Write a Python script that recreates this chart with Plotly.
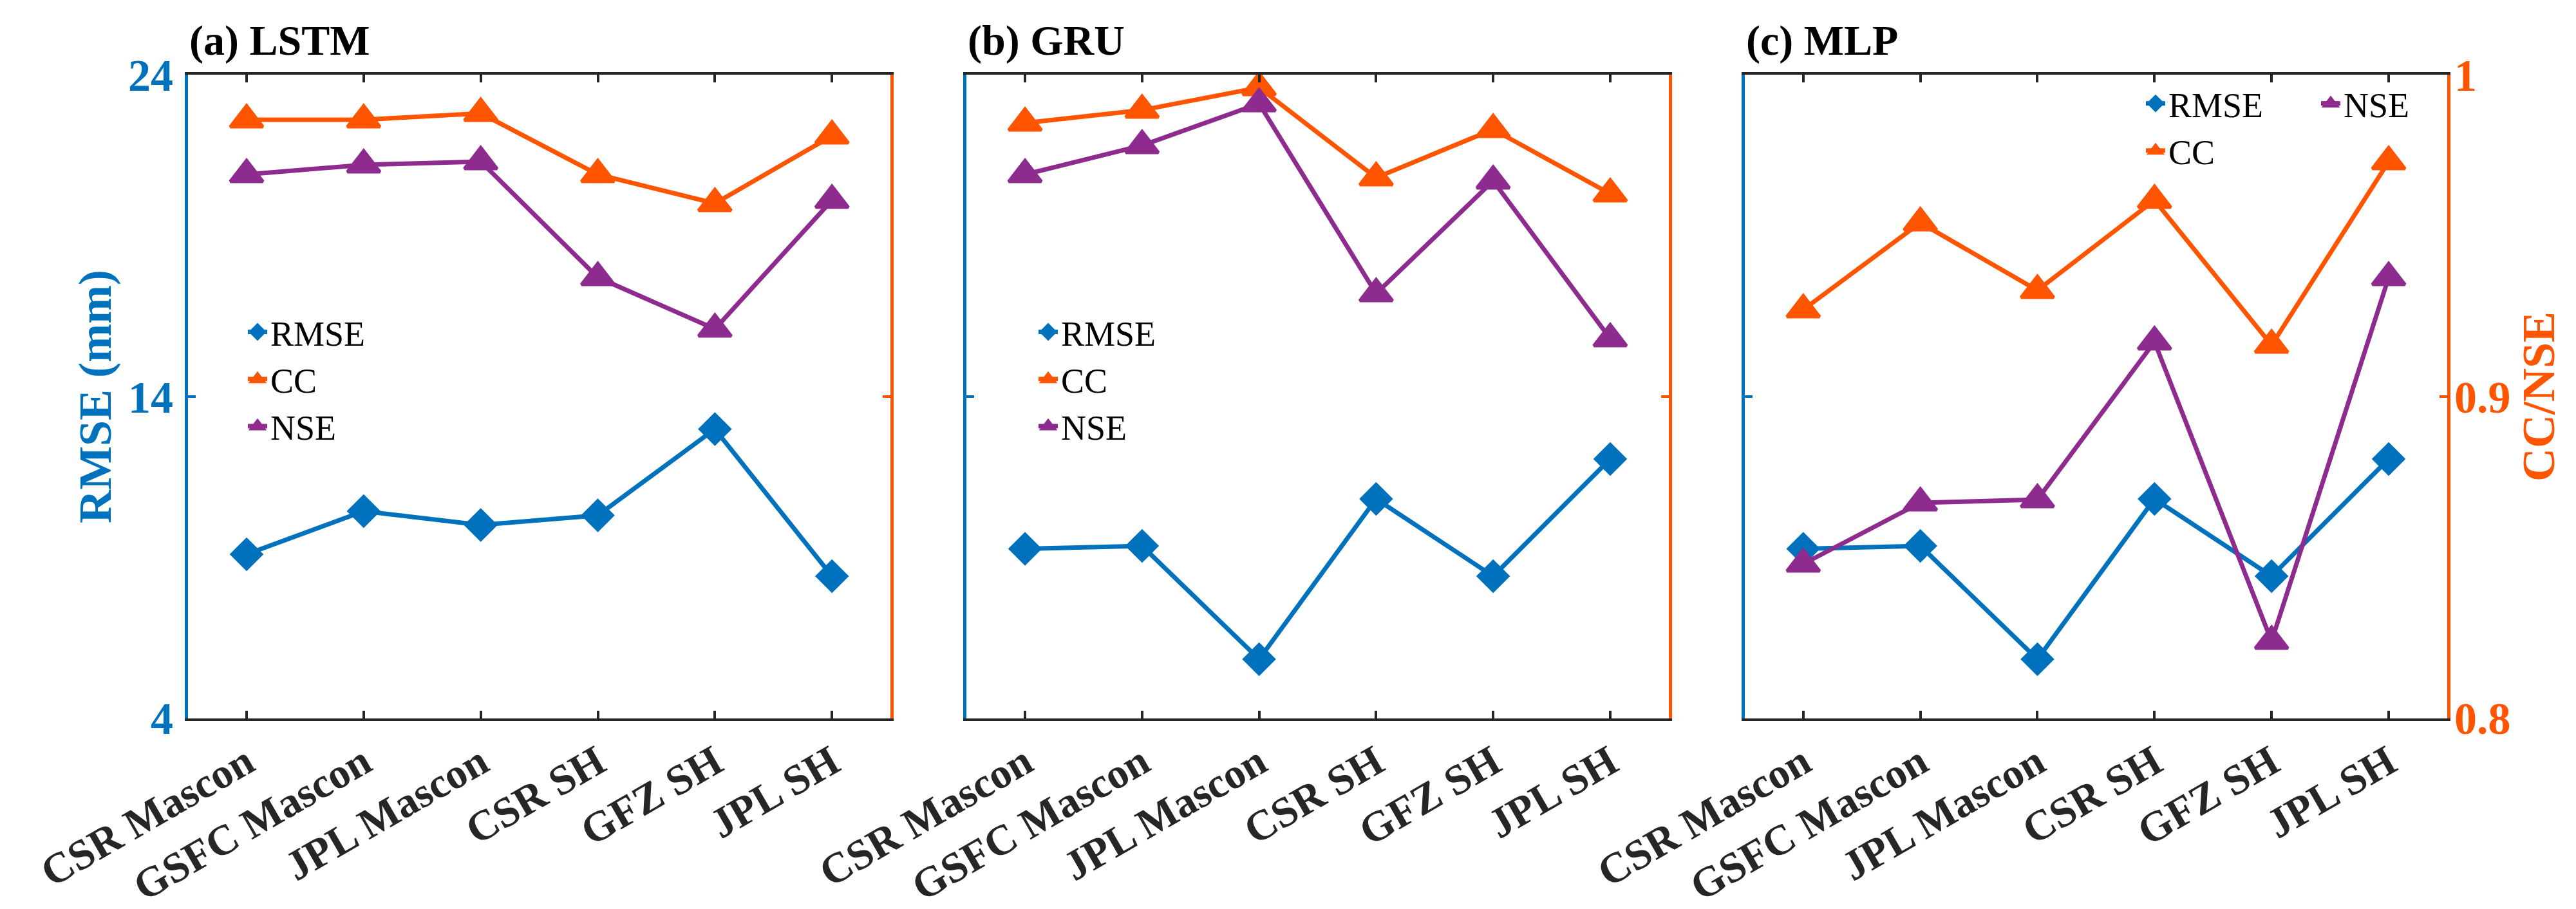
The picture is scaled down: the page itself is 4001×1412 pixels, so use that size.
import plotly.graph_objects as go

# x categories (GRACE solutions)
products = ['CSR Mascon', 'GSFC Mascon', 'JPL Mascon', 'CSR SH', 'GFZ SH', 'JPL SH']

# (a) LSTM
lstm_rmse = [9.10, 10.44, 10.01, 10.31, 12.99, 8.42]
lstm_cc = [0.986, 0.986, 0.988, 0.969, 0.960, 0.981]
lstm_nse = [0.969, 0.972, 0.973, 0.937, 0.921, 0.961]

# (b) GRU
gru_rmse = [9.27, 9.36, 5.84, 10.82, 8.42, 12.06]
gru_cc = [0.985, 0.989, 0.996, 0.968, 0.983, 0.963]
gru_nse = [0.969, 0.978, 0.991, 0.932, 0.967, 0.918]

# (c) MLP
mlp_rmse = [9.27, 9.36, 5.84, 10.82, 8.42, 12.06]
mlp_cc = [0.927, 0.954, 0.933, 0.961, 0.916, 0.973]
mlp_nse = [0.848, 0.867, 0.868, 0.917, 0.824, 0.937]

rmse_ticks = [4, 14, 24]
cc_ticks = [0.8, 0.9, 1]

BLUE = '#0072BD'
ORANGE = '#FF5500'
PURPLE = '#8E2B8E'
DARK = '#262626'
FONT = 'Liberation Serif'

panels = [
    ('(a) LSTM', lstm_rmse, lstm_cc, lstm_nse),
    ('(b) GRU', gru_rmse, gru_cc, gru_nse),
    ('(c) MLP', mlp_rmse, mlp_cc, mlp_nse),
]
x_domains = [[0.0710, 0.3437], [0.3732, 0.6458], [0.6753, 0.9480]]
y_domain = [0.2153, 0.9235]


def series(color, symbol, size):
    # same look for every line: thick line, filled marker with an outline of the same colour
    return dict(line=dict(color=color, width=7),
                marker=dict(symbol=symbol, size=size, color=color, line=dict(color=color, width=5)))


fig = go.Figure()
layout = {}
for i, (title, rmse, cc, nse) in enumerate(panels):
    xa = 'x' if i == 0 else 'x%d' % (i + 1)
    yl = 'y%d' % (2 * i + 1) if i > 0 else 'y'
    yr = 'y%d' % (2 * i + 2)
    leg = 'legend' if i == 0 else 'legend%d' % (i + 1)
    # panel c: RMSE+CC in legend3, NSE next to RMSE in legend4
    leg_nse = 'legend4' if i == 2 else leg

    fig.add_trace(go.Scatter(x=products, y=rmse, xaxis=xa, yaxis=yl, mode='lines+markers', name='RMSE',
                             legend=leg, **series(BLUE, 'diamond', 35)))
    fig.add_trace(go.Scatter(x=products, y=cc, xaxis=xa, yaxis=yr, mode='lines+markers', name='CC',
                             legend=leg, **series(ORANGE, 'triangle-up', 44)))
    fig.add_trace(go.Scatter(x=products, y=nse, xaxis=xa, yaxis=yr, mode='lines+markers', name='NSE',
                             legend=leg_nse, **series(PURPLE, 'triangle-up', 44)))

    xkey = 'xaxis' if i == 0 else 'xaxis%d' % (i + 1)
    ylkey = 'yaxis' if i == 0 else 'yaxis%d' % (2 * i + 1)
    yrkey = 'yaxis%d' % (2 * i + 2)

    layout[xkey] = dict(domain=x_domains[i], anchor=yl, range=[-0.5, 5.5], showline=True, linecolor=DARK,
                        linewidth=4, mirror='ticks', ticks='inside', ticklen=12, tickwidth=4, tickcolor=DARK,
                        tickangle=-30, tickfont=dict(family=FONT, size=66, color=DARK, weight='bold'),
                        showgrid=False, zeroline=False, automargin=False)
    layout[ylkey] = dict(domain=y_domain, anchor=xa, range=[4, 24], tickvals=rmse_ticks, showline=True,
                         linecolor=BLUE, linewidth=5, ticks='inside', ticklen=12, tickwidth=4, tickcolor=BLUE,
                         showticklabels=(i == 0), ticklabelstandoff=4,
                         tickfont=dict(family=FONT, size=70, color=BLUE, weight='bold'),
                         showgrid=False, zeroline=False, automargin=False)
    layout[yrkey] = dict(domain=y_domain, anchor=xa, overlaying=yl, side='right', range=[0.8, 1],
                         tickvals=cc_ticks, showline=True, linecolor=ORANGE, linewidth=5, ticks='inside',
                         ticklen=12, tickwidth=4, tickcolor=ORANGE, showticklabels=(i == 2), ticklabelstandoff=-8,
                         tickfont=dict(family=FONT, size=70, color=ORANGE, weight='bold'),
                         showgrid=False, zeroline=False, automargin=False)
    if i == 0:
        layout[ylkey]['title'] = dict(text='RMSE (mm)', standoff=4,
                                      font=dict(family=FONT, size=72, color=BLUE, weight='bold'))
    if i == 2:
        layout[yrkey]['title'] = dict(text='CC/NSE', standoff=20,
                                      font=dict(family=FONT, size=72, color=ORANGE, weight='bold'))

    fig.add_annotation(text='<b>%s</b>' % title, xref='x%s domain' % ('' if i == 0 else str(i + 1)), x=0,
                       yref='paper', y=0.961, xanchor='left', yanchor='middle', showarrow=False,
                       font=dict(family=FONT, size=66, color='black'))

leg_style = dict(font=dict(family=FONT, size=54, color='black'), bgcolor='rgba(0,0,0,0)',
                 xanchor='left', yanchor='top', tracegroupgap=0)
layout['legend'] = dict(x=372 / 4001, y=0.670, **leg_style)
layout['legend2'] = dict(x=1600 / 4001, y=0.670, **leg_style)
layout['legend3'] = dict(x=3320 / 4001, y=0.9214, **leg_style)
layout['legend4'] = dict(x=3592 / 4001, y=0.9214, **leg_style)

fig.update_layout(**layout)
fig.update_layout(width=4001, height=1412, margin=dict(l=0, r=0, t=0, b=0),
                  plot_bgcolor='white', paper_bgcolor='white', showlegend=True)
fig.write_html("out.html")
